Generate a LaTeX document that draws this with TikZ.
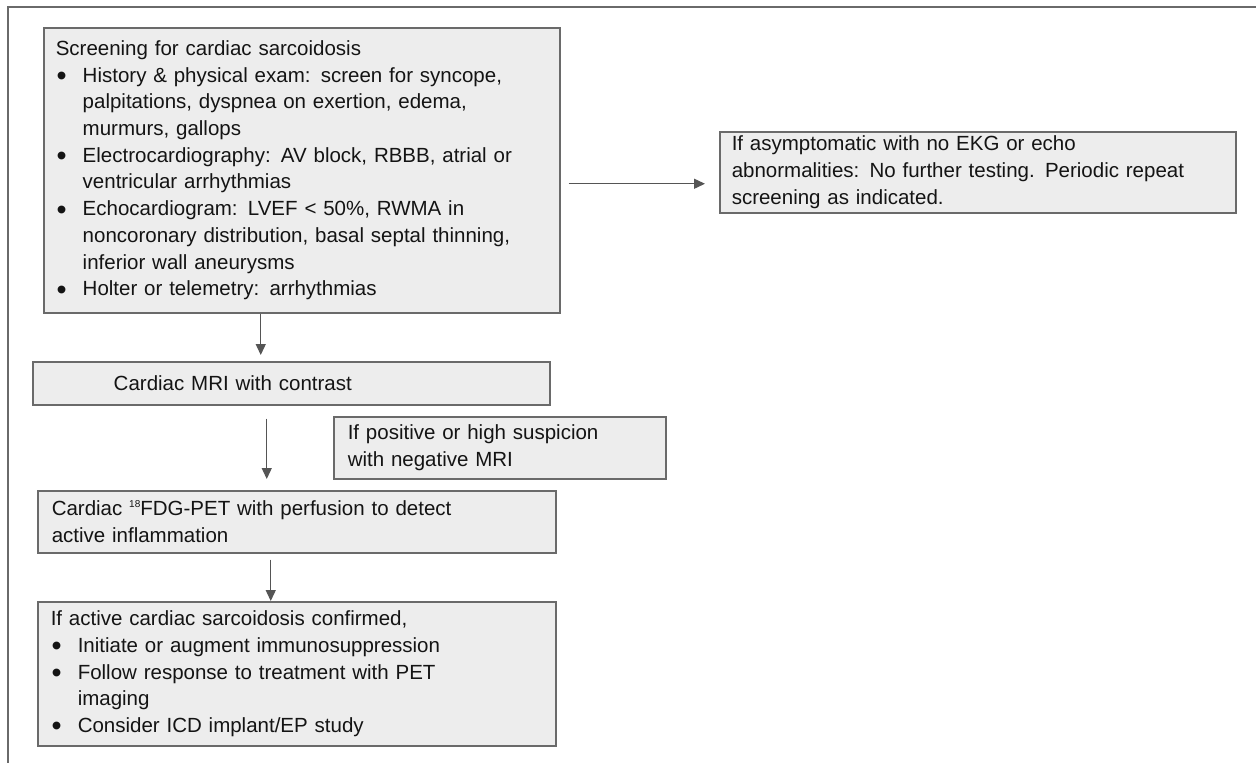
\documentclass[tikz,border=0pt]{standalone}
\usepackage{fontspec}
\setmainfont{Liberation Sans}
\usetikzlibrary{arrows.meta, positioning, calc}
\definecolor{borde}{HTML}{6A6A6A}
\definecolor{relleno}{HTML}{EDEDED}
\definecolor{texto}{HTML}{141414}
\definecolor{flechagris}{HTML}{555555}
\newcommand{\vineta}{\makebox[27pt][l]{\hspace{1pt}\smash{\raisebox{-3.5pt}{\scalebox{1.4}{\textbullet}}}}}
\newcommand{\sangria}{\hspace*{27pt}}
\newcommand{\isotopo}[1]{\raisebox{8pt}{\fontsize{10}{10}\selectfont #1}}
\tikzset{
  bloque/.style={rectangle, draw=borde, fill=relleno, line width=1.5pt, anchor=north west, text=texto,
                 font=\fontsize{20.5}{26.7}\selectfont, align=left, inner xsep=12pt, inner ysep=0pt},
  flecha/.style={line width=1.4pt, -{Triangle[length=11pt,width=10pt]}, color=flechagris},
  marco/.style={line width=1.6pt, color=borde}
}

\begin{document}
\begin{tikzpicture}[x=1pt, y=-1pt]
  \useasboundingbox (0,0) rectangle (1256,763);
  \draw [marco] (8,763) -- (8,7) -- (1256,7);
  \node (screen) [bloque, text width=492pt, minimum height=285pt] at (43,27) {Screening for cardiac sarcoidosis\\
    \vineta History \& physical exam: screen for syncope,\\
    \sangria palpitations, dyspnea on exertion, edema,\\
    \sangria murmurs, gallops\\
    \vineta Electrocardiography: AV block, RBBB, atrial or\\
    \sangria ventricular arrhythmias\\
    \vineta Echocardiogram: LVEF < 50\%, RWMA in\\
    \sangria noncoronary distribution, basal septal thinning,\\
    \sangria inferior wall aneurysms\\
    \vineta Holter or telemetry: arrhythmias};
  \node (asym) [bloque, text width=492pt, minimum height=81pt] at (719,131) {If asymptomatic with no EKG or echo\\
    abnormalities: No further testing. Periodic repeat\\ screening as indicated.};
  \node (mri) [bloque, text width=493pt, minimum height=43pt] at (32,361) {\hspace*{69pt}Cardiac MRI with contrast};
  \node (nota) [bloque, inner xsep=14pt, text width=304pt, minimum height=62pt] at (333,416) {If positive or high suspicion\\ with negative MRI};
  \node (pet) [bloque, inner xsep=14pt, text width=490pt, minimum height=62pt] at (37,490) {Cardiac \isotopo{18}FDG-PET with perfusion to detect\\ active inflammation};
  \node (final) [bloque, inner xsep=13pt, text width=492pt, minimum height=144pt] at (37,601) {If active cardiac sarcoidosis confirmed,\\
    \vineta Initiate or augment immunosuppression\\
    \vineta Follow response to treatment with PET\\
    \sangria imaging\\
    \vineta Consider ICD implant/EP study};
  \draw [flecha] ([xshift=8pt,yshift=-13.5pt]screen.east) -- ([xshift=-14pt,yshift=-11.5pt]asym.west);
  \draw [flecha] ([xshift=-41pt]screen.south) -- ([xshift=-30.5pt,yshift=6pt]mri.north);
  \draw [flecha] ([xshift=-24.5pt,yshift=-13pt]mri.south) -- ([xshift=-30pt,yshift=11pt]pet.north);
  \draw [flecha] ([xshift=-26pt,yshift=-6pt]pet.south) -- ([xshift=-26pt]final.north);
\end{tikzpicture}
\end{document}
